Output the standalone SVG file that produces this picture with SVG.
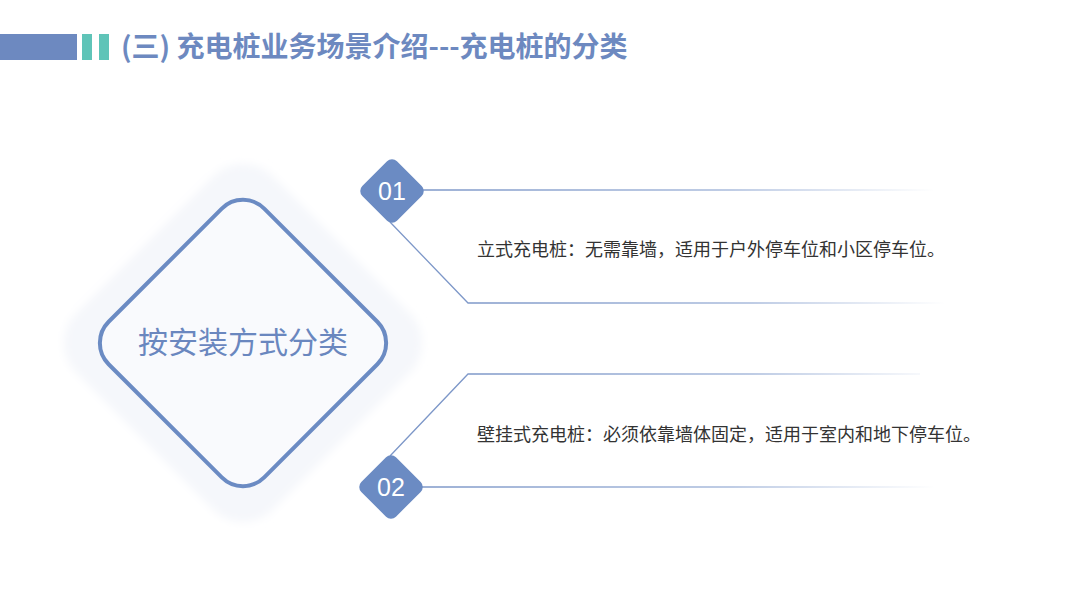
<svg xmlns="http://www.w3.org/2000/svg" width="1080" height="608" viewBox="0 0 1080 608">
<style>
.title{font-family:"Noto Sans CJK SC","Noto Sans",sans-serif;font-size:28px;font-weight:bold;fill:#6d89c0}
.big{font-family:"Noto Sans CJK SC",sans-serif;font-size:30px;fill:#6a87bf}
.num{font-family:"Liberation Sans","Noto Sans",sans-serif;font-size:25px;fill:#ffffff}
.body{font-family:"Noto Sans CJK SC",sans-serif;font-size:18px;fill:#333333}
.ln{fill:none;stroke-width:1.3}
</style>
<defs>
<linearGradient id="g1" gradientUnits="userSpaceOnUse" x1="420" y1="0" x2="935" y2="0">
<stop offset="0" stop-color="#7d97c8"/><stop offset="0.6" stop-color="#a9bbdc"/><stop offset="1" stop-color="#a9bbdc" stop-opacity="0"/>
</linearGradient>
<linearGradient id="g2" gradientUnits="userSpaceOnUse" x1="460" y1="0" x2="945" y2="0">
<stop offset="0" stop-color="#7d97c8"/><stop offset="0.6" stop-color="#a9bbdc"/><stop offset="1" stop-color="#a9bbdc" stop-opacity="0"/>
</linearGradient>
<filter id="soft" x="-20%" y="-20%" width="140%" height="140%"><feGaussianBlur stdDeviation="4"/></filter>
</defs>
<rect width="1080" height="608" fill="#ffffff"/>
<g id="header">
<rect x="0" y="34" width="77" height="26" fill="#6d89c0"/>
<rect x="82" y="34" width="10" height="26" fill="#5fc4b8"/>
<rect x="99" y="34" width="10" height="26" fill="#5fc4b8"/>
<text class="title" x="121" y="57">(三) 充电桩业务场景介绍---充电桩的分类</text>
</g>
<g id="connectors">
<line class="ln" x1="420" y1="190" x2="935" y2="190" stroke="url(#g1)"/>
<polyline class="ln" points="390,222 468,303 945,303" stroke="url(#g2)"/>
<polyline class="ln" points="390,456 468,374 920,374" stroke="url(#g2)"/>
<line class="ln" x1="420" y1="487" x2="940" y2="487" stroke="url(#g1)"/>
</g>
<g id="main">
<rect x="104" y="204" width="278" height="278" rx="42" transform="rotate(45 243 343)" fill="#f5f7fb" filter="url(#soft)"/>
<rect x="133" y="233" width="220" height="220" rx="30" transform="rotate(45 243 343)" fill="#f9fafd" stroke="#6b8bc3" stroke-width="4"/>
<text class="big" x="243" y="353" text-anchor="middle">按安装方式分类</text>
</g>
<g id="n01">
<rect x="367.5" y="166.5" width="49" height="49" rx="7" transform="rotate(45 392 191)" fill="#6b8bc3"/>
<text class="num" x="392" y="200" text-anchor="middle">01</text>
</g>
<g id="t01">
<text class="body" x="477" y="256">立式充电桩：无需靠墙，适用于户外停车位和小区停车位。</text>
</g>
<g id="n02">
<rect x="366.5" y="462.5" width="49" height="49" rx="7" transform="rotate(45 391 487)" fill="#6b8bc3"/>
<text class="num" x="391" y="496" text-anchor="middle">02</text>
</g>
<g id="t02">
<text class="body" x="477" y="441">壁挂式充电桩：必须依靠墙体固定，适用于室内和地下停车位。</text>
</g>
</svg>
